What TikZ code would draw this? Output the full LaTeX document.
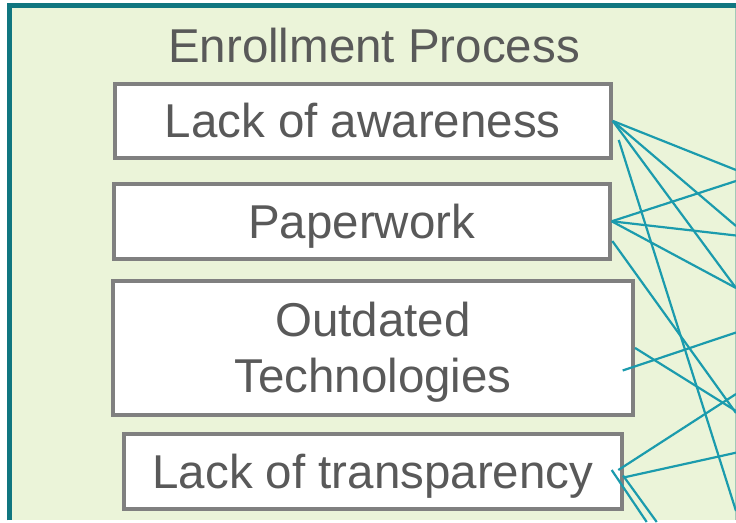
\documentclass[tikz,border=0pt]{standalone}
\usepackage{fontspec}
\setmainfont{Liberation Sans}
\definecolor{panelbg}{HTML}{EBF4D9}
\definecolor{frameteal}{HTML}{107680}
\definecolor{boxgray}{HTML}{808080}
\definecolor{txtgray}{HTML}{595959}
\definecolor{linkteal}{HTML}{1B9BAD}
\definecolor{edgeline}{HTML}{A3C9B8}
\begin{document}
\begin{tikzpicture}[x=1pt,y=-1pt,
  cause/.style={draw=boxgray, line width=4pt, fill=white, inner sep=0pt,
    text=txtgray, font=\fontsize{47.5pt}{56pt}\selectfont,
    text height=34pt, text depth=0pt},
  link/.style={draw=linkteal, line width=2.2pt},
  heading/.style={text=txtgray, font=\fontsize{47.5pt}{56pt}\selectfont,
    inner sep=0pt, anchor=base}]
\useasboundingbox (0,0) rectangle (736,522);

% panel background and its frame
\fill[panelbg] (9.8,5.8) rectangle (736,520.3);
\draw[frameteal, line width=5pt] (9.8,520.3) -- (9.8,5.8) -- (736,5.8);
\draw[edgeline, line width=1pt] (735.5,8.3) -- (735.5,520.3);

% heading
\node[heading] (title) at (374,62.5) {Enrollment Process};

% cause boxes
\node[cause, minimum width=496pt, minimum height=74.3pt] (aware) at (362.7,120.9) {Lack of awareness};
\node[cause, minimum width=496pt, minimum height=75.3pt] (paper) at (361.7,221.3) {Paperwork};
\node[cause, minimum width=520pt, minimum height=133.7pt, align=center,
      text height=90pt, text depth=0pt] (outdated) at (373,347.9) {Outdated\\Technologies};
\node[cause, minimum width=498.3pt, minimum height=75.3pt] (transp) at (372.9,471.3) {Lack of transparency};

% start points of links that leave a box away from its east anchor
\coordinate (p2) at (612.3,241);
\coordinate (o2) at (622.7,370.5);
\coordinate (t1) at (618.3,470);
\coordinate (t2) at (623.5,477.5);
\coordinate (t3) at (611.7,470);
\coordinate (t4) at (623,475.5);

% free ends of links at the border
\coordinate (r1) at (736,170);
\coordinate (r2) at (736,181);
\coordinate (r3) at (736,226);
\coordinate (r4) at (736,235.5);
\coordinate (r5) at (736,288);
\coordinate (r6) at (736,332.5);
\coordinate (r7) at (736,394);
\coordinate (r8) at (736,411);
\coordinate (r9) at (736,413);
\coordinate (r10) at (736,452.7);
\coordinate (r11) at (736,511);
\coordinate (b1) at (646.7,522);
\coordinate (b2) at (656.7,522);

% links
\draw[link] (aware.east) -- (r1);
\draw[link] (aware.east) -- (r3);
\draw[link] (aware.east) -- (r5);
\draw[link, shorten <=20pt] (aware.east) -- (r11);
\draw[link] (paper.east) -- (r2);
\draw[link] (paper.east) -- (r4);
\draw[link] (paper.east) -- (r5);
\draw[link] (p2) -- (r9);
\draw[link] (outdated.east) -- (r8);
\draw[link] (o2) -- (r6);
\draw[link] (t1) -- (r7);
\draw[link] (t2) -- (r10);
\draw[link] (t3) -- (b1);
\draw[link] (t4) -- (b2);
\end{tikzpicture}
\end{document}
